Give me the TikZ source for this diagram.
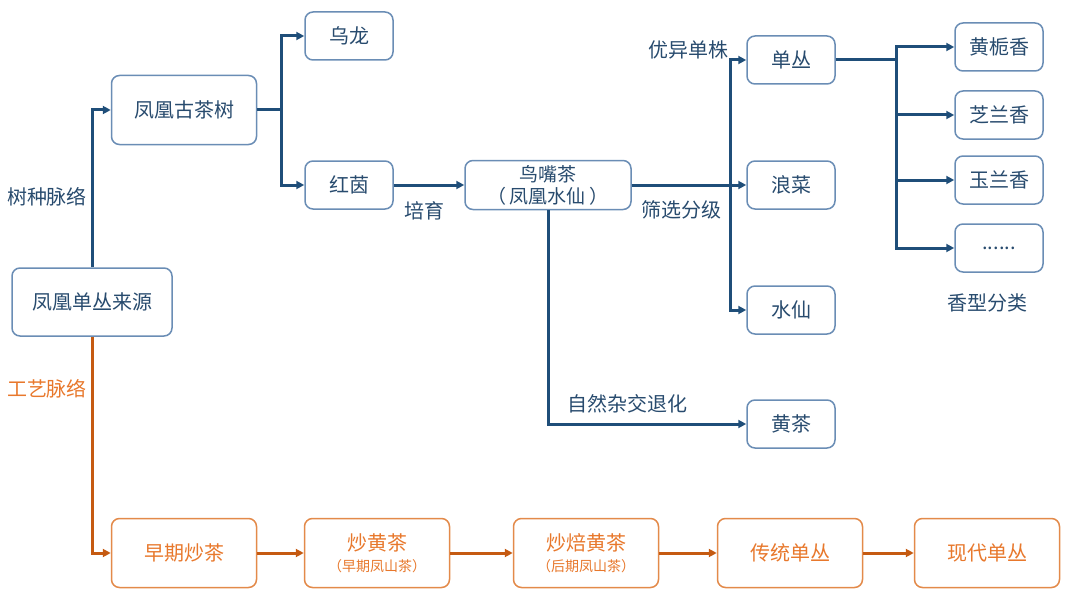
\documentclass[tikz,border=0pt]{standalone}
\usepackage{fontspec}
\setmainfont{Noto Sans CJK SC}
\usetikzlibrary{arrows.meta}

\definecolor{lineblue}{HTML}{1F4E79}
\definecolor{boxblue}{HTML}{6A8DB5}
\definecolor{textblue}{HTML}{284B6E}
\definecolor{lineorange}{HTML}{C55A11}
\definecolor{boxorange}{HTML}{E38A4A}
\definecolor{textorange}{HTML}{E8782C}

\tikzset{
  bluebox/.style={draw=boxblue, line width=1.5pt, rounded corners=8pt, fill=white, text=textblue, font=\fontsize{20}{23}\selectfont, align=center},
  orangebox/.style={draw=boxorange, line width=1.5pt, rounded corners=8pt, fill=white, text=textorange, font=\fontsize{20}{23}\selectfont, align=center, minimum width=145pt, minimum height=69pt},
  smallbox/.style={bluebox, minimum width=88pt, minimum height=48pt},
  blueline/.style={draw=lineblue, line width=3pt, -{Triangle[length=8pt,width=8pt]}},
  orangeline/.style={draw=lineorange, line width=3pt, -{Triangle[length=8pt,width=8pt]}},
  bluelabel/.style={text=textblue, font=\fontsize{20}{23}\selectfont},
}

\begin{document}
\begin{tikzpicture}[x=1pt, y=-1pt]
\useasboundingbox (0,0) rectangle (1080,610);

% tree branch
\node[bluebox, minimum width=160pt, minimum height=68pt] (source) at (92,302) {凤凰单丛来源};
\node[bluebox, minimum width=145pt, minimum height=69pt] (oldtree) at (184,110) {凤凰古茶树};
\node[smallbox] (wulong) at (349,36) {乌龙};
\node[smallbox] (hongyin) at (349,185) {红茵};
\node[bluebox, minimum width=166pt, minimum height=49pt, inner sep=1pt, font=\fontsize{19}{22}\selectfont] (niaozui) at (548,185) {鸟嘴茶\\（\,凤凰水仙\,）};
\node[smallbox] (dancong) at (791,60) {单丛};
\node[smallbox] (langcai) at (791,185) {浪菜};
\node[smallbox] (shuixian) at (791,310) {水仙};
\node[smallbox] (huangcha) at (791,424) {黄茶};
\node[smallbox] (zhizi) at (999,47) {黄栀香};
\node[smallbox] (zhilan) at (999,115) {芝兰香};
\node[smallbox] (yulan) at (999,180) {玉兰香};
\node[smallbox] (more) at (999,248) {\raisebox{-4pt}{......}};

\node[bluelabel] (treelbl) at (47,197) {树种脉络};
\node[bluelabel] (peiyu) at (424,211) {培育};
\node[bluelabel] (youyi) at (688,50) {优异单株};
\node[bluelabel] (shaixuan) at (681,210) {筛选分级};
\node[bluelabel] (zajiao) at (627,404) {自然杂交退化};
\node[bluelabel] (xiangxing) at (987,303) {香型分类};

\draw[blueline] (source.north) |- (oldtree.west);
\draw[blueline] (oldtree.east) -- ++(24,0) |- (wulong.west);
\draw[blueline] (oldtree.east) -- ++(24,0) |- (hongyin.west);
\draw[blueline] (hongyin.east) -- (niaozui.west);
\draw[blueline] (niaozui.east) -- ++(99,0) |- (dancong.west);
\draw[blueline] (niaozui.east) -- (langcai.west);
\draw[blueline] (niaozui.east) -- ++(99,0) |- (shuixian.west);
\draw[blueline] (niaozui.south) |- (huangcha.west);
\foreach \t in {zhizi, zhilan, yulan, more}
  \draw[blueline] (dancong.east) -- ++(61,0) |- (\t.west);

% craft branch
\node[text=textorange, font=\fontsize{20}{23}\selectfont] (craftlbl) at (47,389) {工艺脉络};
\node[orangebox] (early) at (184,553) {早期炒茶};
\node[orangebox] (chaohuang) at (377,553) {炒黄茶\\[-2pt]{\fontsize{14}{16}\selectfont（早期凤山茶）}};
\node[orangebox] (beihuang) at (586,553) {炒焙黄茶\\[-2pt]{\fontsize{14}{16}\selectfont（后期凤山茶）}};
\node[orangebox] (tradition) at (790,553) {传统单丛};
\node[orangebox] (modern) at (987,553) {现代单丛};

\draw[orangeline] (source.south) |- (early.west);
\draw[orangeline] (early.east) -- (chaohuang.west);
\draw[orangeline] (chaohuang.east) -- (beihuang.west);
\draw[orangeline] (beihuang.east) -- (tradition.west);
\draw[orangeline] (tradition.east) -- (modern.west);
\end{tikzpicture}
\end{document}
